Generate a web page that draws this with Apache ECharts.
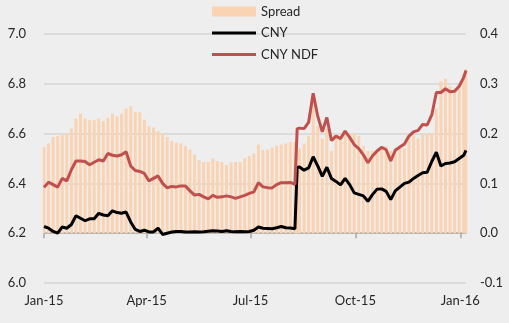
<!DOCTYPE html>
<html><head><meta charset="utf-8">
<script src="https://cdn.jsdelivr.net/npm/echarts@6/dist/echarts.min.js"></script>
<style>html,body{margin:0;padding:0;background:#EEEEEE;}#c{width:509px;height:323px;}</style>
</head><body><div id="c"></div>
<script>
var dates = ['2015-01-01','2015-01-05','2015-01-09','2015-01-13','2015-01-17','2015-01-21','2015-01-25','2015-01-29',
'2015-02-02','2015-02-06','2015-02-10','2015-02-14','2015-02-18','2015-02-22','2015-02-26',
'2015-03-02','2015-03-06','2015-03-10','2015-03-14','2015-03-18','2015-03-22','2015-03-26','2015-03-30',
'2015-04-03','2015-04-07','2015-04-11','2015-04-15','2015-04-19','2015-04-23','2015-04-27',
'2015-05-01','2015-05-05','2015-05-09','2015-05-13','2015-05-17','2015-05-21','2015-05-25','2015-05-29',
'2015-06-02','2015-06-06','2015-06-10','2015-06-14','2015-06-18','2015-06-22','2015-06-26','2015-06-30',
'2015-07-04','2015-07-08','2015-07-12','2015-07-16','2015-07-20','2015-07-24','2015-07-28',
'2015-08-01','2015-08-05','2015-08-09','2015-08-10','2015-08-11','2015-08-13','2015-08-17','2015-08-21','2015-08-25','2015-08-29',
'2015-09-02','2015-09-06','2015-09-10','2015-09-14','2015-09-18','2015-09-22','2015-09-26','2015-09-30',
'2015-10-04','2015-10-08','2015-10-12','2015-10-16','2015-10-20','2015-10-24','2015-10-28',
'2015-11-01','2015-11-05','2015-11-09','2015-11-13','2015-11-17','2015-11-21','2015-11-25','2015-11-29',
'2015-12-03','2015-12-07','2015-12-11','2015-12-15','2015-12-19','2015-12-23','2015-12-27','2015-12-31',
'2016-01-04','2016-01-06'];

var cny = [6.227,6.22,6.207,6.20,6.225,6.22,6.235,6.27,6.26,6.25,6.258,6.258,6.28,6.273,6.27,6.29,6.283,6.28,6.285,6.245,
6.215,6.207,6.212,6.205,6.205,6.22,6.195,6.2,6.205,6.207,6.207,6.205,6.205,6.206,6.205,6.206,6.208,6.21,6.209,6.207,
6.21,6.207,6.206,6.207,6.206,6.207,6.212,6.225,6.22,6.219,6.218,6.222,6.227,6.222,6.221,6.218,
6.216,6.464,
6.466,6.453,6.462,6.507,6.47,6.428,6.465,6.42,6.408,6.394,6.42,6.395,6.362,6.356,6.35,6.328,6.355,6.377,6.378,6.368,
6.335,6.37,6.385,6.4,6.405,6.42,6.432,6.443,6.445,6.488,6.525,6.47,6.48,6.482,6.487,6.5,6.513,
6.533];

var ndf = [6.384,6.405,6.395,6.385,6.42,6.41,6.455,6.49,6.49,6.488,6.475,6.485,6.495,6.49,6.52,6.513,6.51,6.515,6.527,6.47,
6.452,6.448,6.44,6.41,6.42,6.43,6.40,6.382,6.388,6.386,6.39,6.39,6.37,6.353,6.356,6.346,6.338,6.352,6.344,6.346,
6.35,6.346,6.34,6.346,6.352,6.36,6.366,6.403,6.386,6.383,6.382,6.395,6.403,6.403,6.404,6.396,
6.393,6.62,
6.622,6.62,6.645,6.762,6.67,6.607,6.665,6.572,6.59,6.58,6.61,6.585,6.556,6.54,6.515,6.483,6.51,6.53,6.545,6.535,
6.49,6.533,6.546,6.558,6.59,6.607,6.613,6.637,6.635,6.675,6.765,6.765,6.78,6.768,6.77,6.79,6.826,
6.853];

var spread = [0.173,0.18,0.193,0.195,0.197,0.2,0.21,0.23,0.24,0.23,0.227,0.227,0.23,0.225,0.232,0.24,0.235,0.24,0.25,0.255,
0.243,0.243,0.228,0.215,0.212,0.205,0.2,0.193,0.185,0.182,0.18,0.175,0.168,0.158,0.147,0.143,0.143,0.15,0.145,0.143,
0.137,0.142,0.143,0.143,0.15,0.155,0.16,0.178,0.167,0.168,0.172,0.176,0.178,0.18,0.183,0.183,
0.182,0.165,
0.17,0.18,0.195,0.27,0.215,0.19,0.21,0.165,0.19,0.195,0.2,0.2,0.2,0.195,0.175,0.165,0.165,0.165,0.175,0.175,
0.165,0.17,0.17,0.17,0.195,0.197,0.19,0.2,0.2,0.2,0.25,0.305,0.31,0.295,0.29,0.3,0.32,
0.33];

var tickDates = ['2015-01-01','2015-04-01','2015-07-01','2015-10-01','2016-01-01'];
var tickLabels = ['Jan-15','Apr-15','Jul-15','Oct-15','Jan-16'];
var seriesNames = ['Spread','CNY','CNY NDF'];
var startDate = '2015-01-01', endDate = '2016-01-06';

// day offset from startDate (x position on a linear day axis)
function dayOf(s){var p=s.split('-');var q=startDate.split('-');
  return Math.round((Date.UTC(+p[0],+p[1]-1,+p[2])-Date.UTC(+q[0],+q[1]-1,+q[2]))/86400000);}
var tickDays = tickDates.map(dayOf);
function pairs(vals){return vals.map(function(v,i){return [dayOf(dates[i]),v];});}

var lineIcon = 'path://M0,0L0,0M0,10L0,10M0,3.6L44,3.6L44,6.4L0,6.4Z';
var font = 'Lato';
var chart = echarts.init(document.getElementById('c'));
chart.setOption({
  animation:false,
  backgroundColor:'#EEEEEE',
  textStyle:{fontFamily:font},
  grid:{left:44,right:43,top:34,bottom:40},
  legend:{
    orient:'vertical', left:212, top:5, padding:0, itemWidth:44, itemHeight:10, itemGap:8.5,
    textStyle:{fontFamily:font,fontSize:13,color:'#262626'},
    data:[{name:seriesNames[0],icon:'rect'},{name:seriesNames[1],icon:lineIcon},{name:seriesNames[2],icon:lineIcon}]
  },
  xAxis:{
    type:'value', min:0, max:dayOf(endDate),
    axisLine:{lineStyle:{color:'#A6A6A6',width:1.5}},
    axisTick:{show:true,length:5,customValues:tickDays,lineStyle:{color:'#A6A6A6',width:1.5}},
    axisLabel:{customValues:tickDays,margin:11,fontSize:13,color:'#262626',fontFamily:font,
      formatter:function(v){var i=tickDays.indexOf(Math.round(v));return i>=0?tickLabels[i]:'';}},
    splitLine:{show:false}
  },
  yAxis:[
    {type:'value',min:6.0,max:7.0,interval:0.2,
     axisLine:{show:false},axisTick:{show:false},
     axisLabel:{margin:18,fontSize:13,color:'#262626',fontFamily:font,formatter:function(v){return (Math.round(v*10)/10).toFixed(1);}},
     splitLine:{lineStyle:{color:'#D6D6D6',width:1.5}}},
    {type:'value',min:-0.1,max:0.4,interval:0.1,
     axisLine:{show:false},axisTick:{show:false},
     axisLabel:{margin:14,fontSize:13,color:'#262626',fontFamily:font,formatter:function(v){return (Math.round(v*10)/10).toFixed(1);}},
     splitLine:{show:false}}
  ],
  series:[
    {name:seriesNames[0],type:'bar',yAxisIndex:1,barWidth:3,data:pairs(spread),
     itemStyle:{color:'#FAD3B3'}},
    {name:seriesNames[1],type:'line',yAxisIndex:0,symbol:'none',data:pairs(cny),
     lineStyle:{color:'#000000',width:3},itemStyle:{color:'#000000'}},
    {name:seriesNames[2],type:'line',yAxisIndex:0,symbol:'none',data:pairs(ndf),
     lineStyle:{color:'#C0504D',width:3},itemStyle:{color:'#C0504D'}}
  ]
});
</script>
</body></html>
